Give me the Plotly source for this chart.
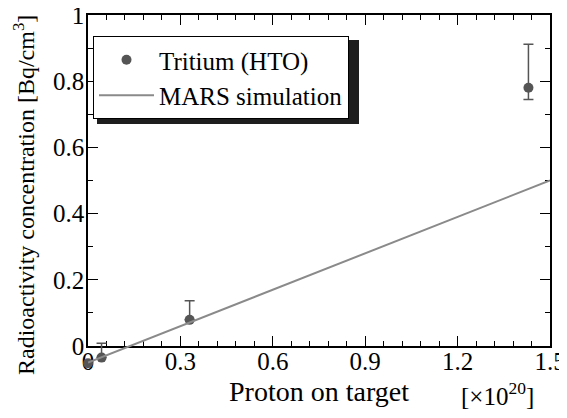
import plotly.graph_objects as go

# ---- data ----
pot = [0.0, 0.044, 0.33, 1.43]          # proton on target [x1e20]
conc = [-0.052, -0.035, 0.079, 0.78]    # Bq/cm3
err_plus = [0.0, 0.043, 0.058, 0.132]
err_minus = [0.0, 0.0, 0.0, 0.035]

sim_x = [0.0, 1.5]
sim_y = [-0.05, 0.50]

# ---- layout geometry (page body has an 8px margin on every side) ----
OFF = 8
W, H = 567 - OFF, 418 - 2 * OFF
ML, MR, MT = 88 - OFF, 17, 15 - OFF
axis_bottom_px = 346 - OFF          # visible x axis, in figure pixels
ext_px = 20                          # hidden data axes extend this far below it
MB = H - axis_bottom_px - ext_px
plot_h = H - MT - MB
db = ext_px / plot_h                 # bottom of visible y axis domain
ymin2 = -db / (1 - db)               # hidden axis lower bound so scales match

FONT = "Liberation Serif, Times New Roman, Times, serif"

def px_x(p):
    return (p - OFF - ML) / (W - ML - MR)

def px_y(p):
    return (H - MB - (p - OFF)) / plot_h

fig = go.Figure()

# empty trace so the framed (visible) axes get drawn
fig.add_trace(go.Scatter(x=[], y=[], mode="markers", showlegend=False, hoverinfo="skip"))

fig.add_trace(go.Scatter(
    x=pot, y=conc, mode="markers", name="Tritium (HTO)",
    marker=dict(color="#555555", size=10),
    error_y=dict(type="data", symmetric=False, array=err_plus, arrayminus=err_minus,
                 color="#555555", thickness=1.5, width=5),
    cliponaxis=False, xaxis="x2", yaxis="y2",
))
fig.add_trace(go.Scatter(
    x=sim_x, y=sim_y, mode="lines", name="MARS simulation",
    line=dict(color="#8a8a8a", width=2),
    xaxis="x2", yaxis="y2",
))

axis_common = dict(
    showline=True, linecolor="black", linewidth=1.5, mirror="ticks",
    ticks="inside", ticklen=10, tickwidth=1.3, tickcolor="black",
    showgrid=False, zeroline=False, ticklabeloverflow="allow", automargin=False,
    tickfont=dict(family=FONT, size=25, color="black"),
)

# legend placement (box) and its drop shadow
LEG_L, LEG_T = 93, 36
LEG_W, LEG_H = 262, 84
SH = 4

fig.update_layout(
    width=W, height=H,
    margin=dict(l=ML, r=MR, t=MT, b=MB, autoexpand=False),
    paper_bgcolor="white", plot_bgcolor="rgba(0,0,0,0)",
    font=dict(family=FONT, size=25, color="black"),
    xaxis=dict(range=[0, 1.5], domain=[0, 1], anchor="y",
               tick0=0, dtick=0.3, ticklabelstandoff=-8,
               minor=dict(dtick=0.06, ticklen=5, tickwidth=1.2, tickcolor="black", ticks="inside"),
               title=dict(text="Proton on target", font=dict(family=FONT, size=28), standoff=8),
               **axis_common),
    yaxis=dict(range=[0, 1], domain=[db, 1], anchor="x",
               tick0=0, dtick=0.2, ticklabelstandoff=-3,
               minor=dict(dtick=0.1, ticklen=5, tickwidth=1.2, tickcolor="black", ticks="inside"),
               **axis_common),
    xaxis2=dict(range=[0, 1.5], domain=[0, 1], anchor="y2", visible=False),
    yaxis2=dict(range=[ymin2, 1], domain=[0, 1], anchor="x2", visible=False),
    showlegend=True,
    legend=dict(x=px_x(LEG_L), y=px_y(LEG_T), xanchor="left", yanchor="top",
                bgcolor="white", bordercolor="black", borderwidth=1,
                itemwidth=55,
                font=dict(family=FONT, size=25), tracegroupgap=0),
    shapes=[dict(type="rect", xref="paper", yref="paper", layer="above",
                 x0=px_x(LEG_L + SH), x1=px_x(LEG_L + LEG_W + SH),
                 y0=px_y(LEG_T + LEG_H + SH), y1=px_y(LEG_T + SH),
                 fillcolor="#1e1e1e", line=dict(width=0))],
    annotations=[
        dict(text="[×10<sup>20</sup>]", xref="paper", yref="paper",
             x=px_x(497), y=px_y(394), xanchor="center", yanchor="middle",
             showarrow=False, font=dict(family=FONT, size=25, color="black")),
        dict(text="Radioactivity concentration [Bq/cm<sup>3</sup>]", xref="paper", yref="paper",
             x=px_x(24), y=px_y(195), xanchor="center", yanchor="middle", textangle=-90,
             showarrow=False, font=dict(family=FONT, size=24, color="black")),
    ],
)

fig.write_html("out.html")
